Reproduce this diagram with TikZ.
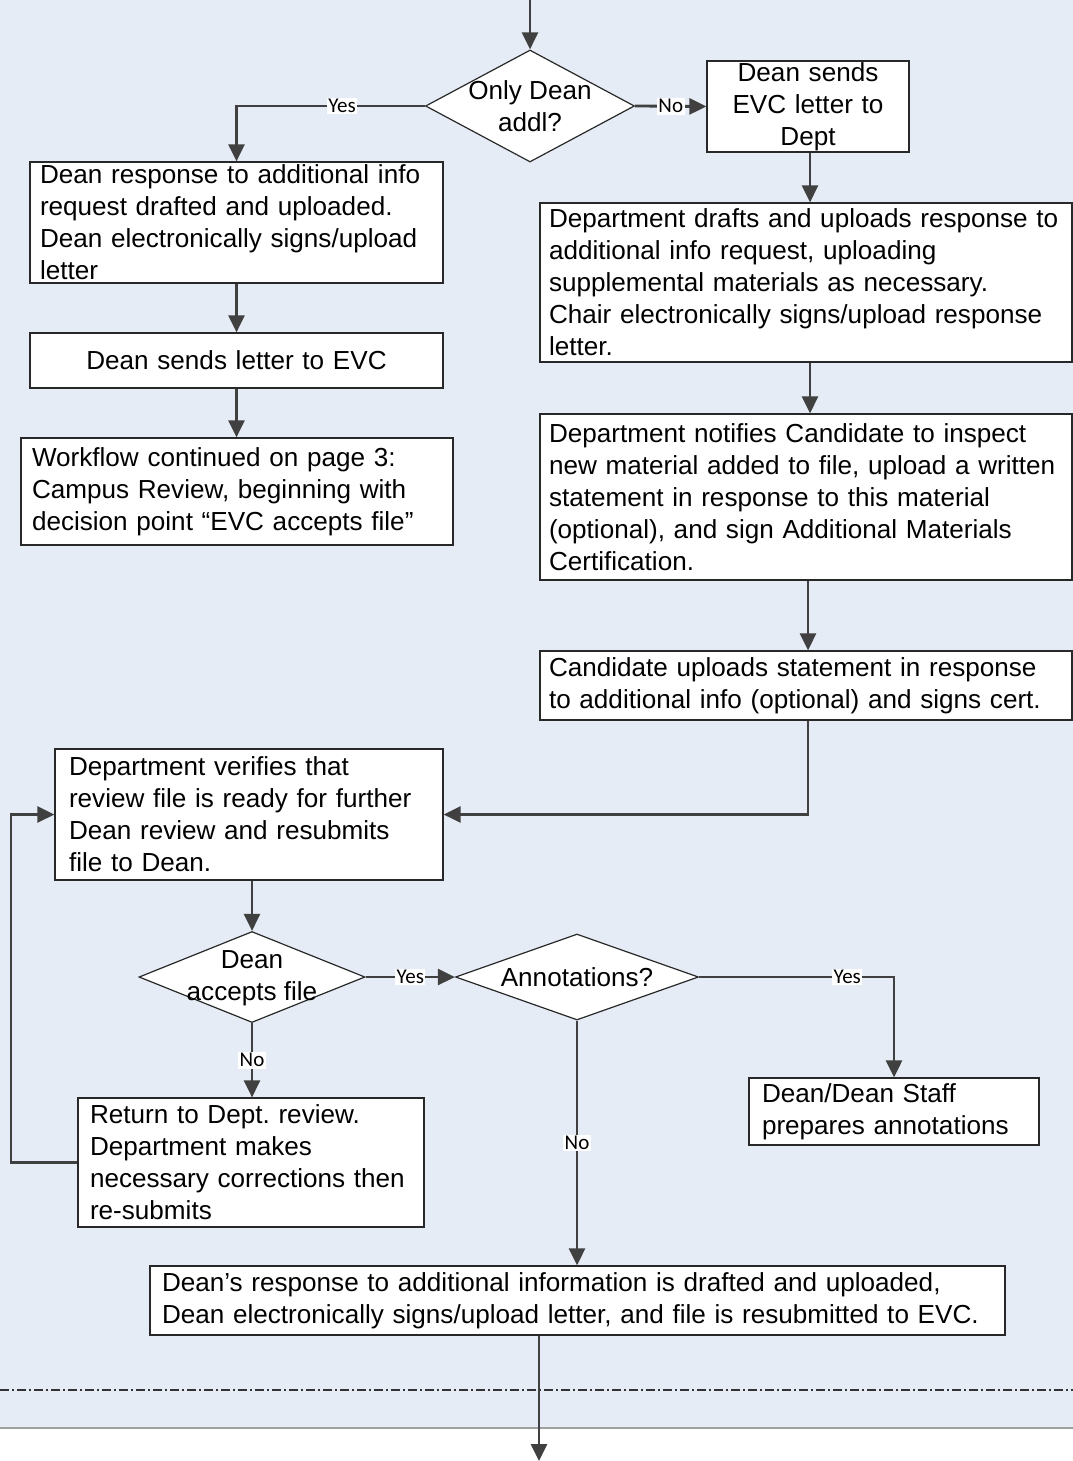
\documentclass[tikz,border=0pt]{standalone}
\usepackage{fontspec}
\setmainfont{Liberation Sans}
\newfontfamily\labelfont{Carlito}
\usetikzlibrary{arrows.meta,shapes.geometric}
\definecolor{pagebg}{RGB}{230,236,246}
\definecolor{flow}{RGB}{64,64,64}
\definecolor{edge}{RGB}{40,40,40}
\frenchspacing
\hyphenpenalty=10000
\tikzset{
  boxnode/.style={draw=edge, fill=white, line width=1.2pt, inner sep=0pt,
    font=\fontsize{26.1}{32}\selectfont},
  decision/.style={draw=edge, fill=white, line width=1.2pt, diamond, inner sep=0pt},
  dtext/.style={font=\fontsize{26.1}{32}\selectfont, align=center, inner sep=0pt},
  arr/.style={draw=flow, line width=2.8pt, -{Triangle[length=17pt,width=16pt]}},
  tag/.style={fill=white, inner sep=1.5pt, text=black,
    font=\labelfont\fontsize{21}{21}\selectfont}
}
\begin{document}
\begin{tikzpicture}[x=1pt,y=-1pt]
\useasboundingbox (0,0) rectangle (1073,1461);
% page background and section separators
\fill[pagebg] (0,0) rectangle (1073,1428);
\draw[gray!75, line width=2pt] (0,1428) -- (1073,1428);
\draw[black!80, line width=1.2pt, dash pattern=on 9pt off 3pt on 2pt off 3pt] (0,1390) -- (1073,1390);

% decisions
\node[decision, minimum width=209pt, minimum height=112pt] (d1) at (530,106) {};
\node[dtext] (t1) at (d1) {Only Dean\\addl?};
\node[decision, minimum width=226pt, minimum height=91pt] (d2) at (252,977) {};
\node[dtext] (t2) at ([yshift=-1pt]d2) {Dean\\accepts file};
\node[decision, minimum width=243pt, minimum height=86pt] (d3) at (577,977) {};
\node[dtext] (t3) at (d3) {Annotations?};

% process boxes
\node[boxnode, minimum width=413pt, minimum height=121pt, text width=393pt, align=left]
  (b1) at (236.5,222.5) {Dean response to additional info\\request drafted and uploaded.\\Dean electronically signs/upload\\letter};
\node[boxnode, minimum width=413pt, minimum height=55pt, text width=391pt, align=center]
  (bs) at (236.5,360.5) {Dean sends letter to EVC};
\node[boxnode, minimum width=432pt, minimum height=107pt, text width=410pt, align=left]
  (bw) at (237,491.5) {Workflow continued on page 3:\\Campus Review, beginning with\\decision point \textquotedblleft EVC accepts file\textquotedblright};
\node[boxnode, minimum width=202pt, minimum height=91pt, text width=196pt, align=center]
  (b2) at (808,106.5) {Dean sends\\EVC letter to\\Dept};
\node[boxnode, minimum width=532pt, minimum height=159pt, text width=514pt, align=left]
  (b3) at (806,282.5) {Department drafts and uploads response to\\additional info request, uploading\\supplemental materials as necessary.\\Chair electronically signs/upload response\\letter.};
\node[boxnode, minimum width=532pt, minimum height=166pt, text width=514pt, align=left]
  (b4) at (806,497) {Department notifies Candidate to inspect\\new material added to file, upload a written\\statement in response to this material\\(optional), and sign Additional Materials\\Certification.};
\node[boxnode, minimum width=532pt, minimum height=69pt, text width=514pt, align=left]
  (b5) at (806,685.5) {Candidate uploads statement in response\\to additional info (optional) and signs cert.};
\node[boxnode, minimum width=388pt, minimum height=131pt, text width=360pt, align=left]
  (b6) at (249,814.5) {Department verifies that\\review file is ready for further\\Dean review and resubmits\\file to Dean.};
\node[boxnode, minimum width=346pt, minimum height=129pt, text width=322pt, align=left]
  (b9) at (251,1162.5) {Return to Dept. review.\\Department makes\\necessary corrections then\\re-submits};
\node[boxnode, minimum width=290pt, minimum height=67pt, text width=264pt, align=left]
  (b7) at (894,1111.5) {Dean/Dean Staff\\prepares annotations};
\node[boxnode, minimum width=855pt, minimum height=69pt, text width=831pt, align=left]
  (b8) at (577.5,1300.5) {Dean\textquoteright s response to additional information is drafted and uploaded,\\Dean electronically signs/upload letter, and file is resubmitted to EVC.};

% loose ends
\coordinate (inflow) at (530,0);
\coordinate (outflow) at (539,1461);
\coordinate (loop) at (11,0);

% connectors
\draw[arr] (inflow) -- (d1.north);
\draw[arr] (d1.west) -| node[tag, pos=0.22] {Yes} (b1.north);
\draw[arr] (d1.east) -- node[tag] {No} (b2.west);
\draw[arr] (b1.south) -- (bs.north);
\draw[arr] (bs.south) -- (bs.south |- bw.north);
\draw[arr] ([xshift=2pt]b2.south) -- ([xshift=2pt]b2.south |- b3.north);
\draw[arr] ([xshift=4pt]b3.south) -- ([xshift=4pt]b3.south |- b4.north);
\draw[arr] ([xshift=2pt]b4.south) -- ([xshift=2pt]b4.south |- b5.north);
\draw[arr] ([xshift=2pt]b5.south) |- (b6.east);
\draw[arr] (d2.north |- b6.south) -- (d2.north);
\draw[arr] (d2.east) -- node[tag] {Yes} (d3.west);
\draw[arr] (d3.east) -| node[tag, pos=0.38] {Yes} (b7.north);
\draw[arr] (d3.south) -- node[tag] {No} (d3.south |- b8.north);
\draw[arr] (d2.south) -- node[tag] {No} (d2.south |- b9.north);
\draw[arr] (b9.west) -- (b9.west -| loop) |- (b6.west);
\draw[arr] ([xshift=-38.5pt]b8.south) -- (outflow);
\end{tikzpicture}
\end{document}
